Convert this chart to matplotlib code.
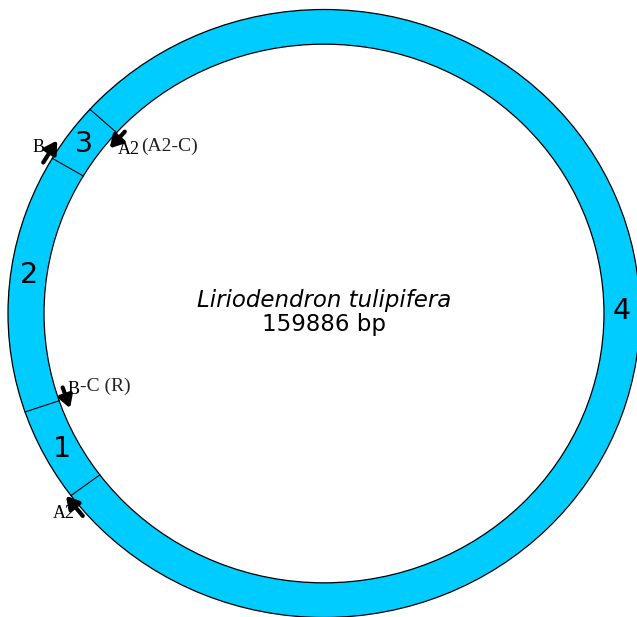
import numpy as np
import matplotlib.pyplot as plt
from matplotlib.patches import Wedge, Circle

# genome and segments (bp), going counter-clockwise from the 3/4 boundary
genome_len = 159886
species = "Liriodendron tulipifera"
segment_names = ["3", "2", "1", "4"]
segment_bp = [5107, 22029, 7950, 124800]
label_bp = [2620, 15322, 31311, 98907]   # where each number sits
start_deg = 137.8

# arrows: position (bp from start), radius, direction (+1 ccw, -1 cw)
arrow_bp = [4708, 489, 27092, 35930]
arrow_r = [1.018, 0.869, 0.862, 1.013]
arrow_dir = [-1, 1, 1, -1]

ring_color = "#00ccff"
r_out, r_in = 1.0, 0.886

W, H = 637, 617
cx, cy, sx, sy = 324, 313.5, 316, 304


def px(x, y):
    # pixel position -> data coords
    return (x - cx) / sx, (cy - y) / sy


def bp2deg(bp):
    return start_deg + bp / genome_len * 360.0


fig = plt.figure(figsize=(W / 100, H / 100), dpi=100)
ax = fig.add_axes([0, 0, 1, 1])
ax.set_xlim(px(0, 0)[0], px(W, 0)[0])
ax.set_ylim(px(0, H)[1], px(0, 0)[1])
ax.axis("off")

edges = np.concatenate([[0], np.cumsum(segment_bp)])
rm = (r_in + r_out) / 2
for i, name in enumerate(segment_names):
    t1, t2 = bp2deg(edges[i]), bp2deg(edges[i + 1])
    ax.add_patch(Wedge((0, 0), r_out, t1, t2, width=r_out - r_in,
                       facecolor=ring_color, edgecolor="none"))
    # boundary line
    a = np.radians(t1)
    ax.plot([r_in * np.cos(a), r_out * np.cos(a)],
            [r_in * np.sin(a), r_out * np.sin(a)], color="black", lw=0.8)
    m = np.radians(bp2deg(label_bp[i]))
    ax.text(rm * np.cos(m), rm * np.sin(m), name, fontsize=20.5,
            ha="center", va="center")

ax.add_patch(Circle((0, 0), r_out, fill=False, edgecolor="black", lw=0.9))
ax.add_patch(Circle((0, 0), r_in, fill=False, edgecolor="black", lw=0.9))

# arrows
half = 2.4
for b, r, d in zip(arrow_bp, arrow_r, arrow_dir):
    mid = bp2deg(b)
    a0 = np.radians(mid - d * half)
    a1 = np.radians(mid + d * half)
    ax.annotate("", xy=(r * np.cos(a1), r * np.sin(a1)),
                xytext=(r * np.cos(a0), r * np.sin(a0)),
                arrowprops=dict(arrowstyle="-|>,head_length=0.6,head_width=0.35",
                                lw=3, color="black", shrinkA=0, shrinkB=0,
                                mutation_scale=12))

serif = "Liberation Serif"
ax.text(*px(39, 148), "B", family=serif, fontsize=13, ha="center", va="center")
ax.text(*px(118, 149), "A2", family=serif, fontsize=13, ha="left", va="center")
ax.text(*px(141, 146.5), "(A2-C)", family=serif, fontsize=14, ha="left",
        va="center", color="#222222")
ax.text(*px(68, 389), "B", family=serif, fontsize=13, ha="left", va="center")
ax.text(*px(80, 386.5), "-C (R)", family=serif, fontsize=14, ha="left",
        va="center", color="#222222")
ax.text(*px(53, 513.5), "A2", family=serif, fontsize=13, ha="left", va="center")

# centre title
ax.text(*px(324, 307.3), species, fontsize=16.5, style="italic",
        ha="center", va="baseline")
ax.text(*px(324, 331), f"{genome_len} bp", fontsize=16.5,
        ha="center", va="baseline")

fig.savefig("out.png", dpi=100)
